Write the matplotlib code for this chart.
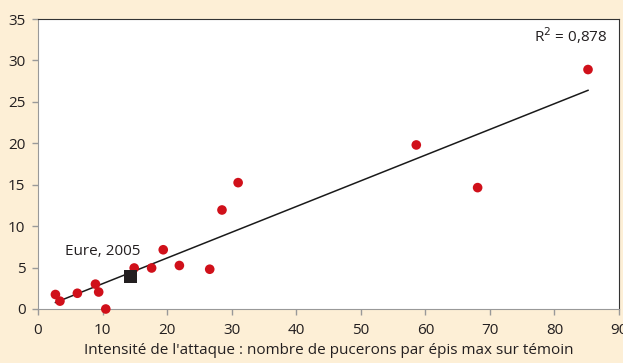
import numpy as np
import matplotlib.pyplot as plt

# nombre de pucerons par epis max sur temoin / perte de rendement
attaque = [2.7, 3.4, 6.1, 8.9, 9.4, 10.5, 14.9, 17.6, 19.4, 21.9, 26.6, 28.5, 31.0, 58.6, 68.1, 85.2]
perte = [1.75, 0.95, 1.9, 3.0, 2.05, 0.0, 4.95, 4.95, 7.15, 5.25, 4.8, 11.95, 15.25, 19.8, 14.65, 28.9]
eure_x = [14.35]
eure_y = [3.9]

plt.rcParams['font.family'] = ['Open Sans', 'DejaVu Sans']

bg = '#fdefd6'
fig = plt.figure(figsize=(6.23, 3.63), dpi=100, facecolor=bg)
ax = fig.add_axes([38/623, 1-309/363, 581/623, 290/363])
ax.set_facecolor('white')

# droite de regression
a, b = np.polyfit(attaque, perte, 1)
xl = np.array([min(attaque), max(attaque)])
ax.plot(xl, a*xl + b, color='#1a1a1a', lw=1.1, zorder=2)

ax.scatter(attaque, perte, s=48, color='#d0101a', edgecolors='none', zorder=3, clip_on=False)
ax.scatter(eure_x, eure_y, s=90, marker='s', color='#231f20', edgecolors='none', zorder=4)

ax.text(15.8, 6.9, 'Eure, 2005', fontsize=11, color='#231f20', ha='right', va='center')
ax.text(88.2, 33.0, 'R$^2$ = 0,878', fontsize=11, color='#231f20', ha='right', va='center')

ax.set_xlim(0, 90)
ax.set_ylim(0, 35)
ax.set_xticks(range(0, 91, 10))
ax.set_yticks(range(0, 36, 5))
ax.tick_params(colors='#999999', labelcolor='#231f20', labelsize=11, length=4, width=1)
ax.tick_params(axis='y', pad=5)
ax.tick_params(axis='x', pad=6)
for s in ['left', 'bottom']:
    ax.spines[s].set_color('#999999')
for s in ['top', 'right']:
    ax.spines[s].set_color('#333333')
ax.set_xlabel("Intensité de l'attaque : nombre de pucerons par épis max sur témoin",
              fontsize=11, color='#231f20', labelpad=4)

fig.savefig('out.png', dpi=100, facecolor=bg)
